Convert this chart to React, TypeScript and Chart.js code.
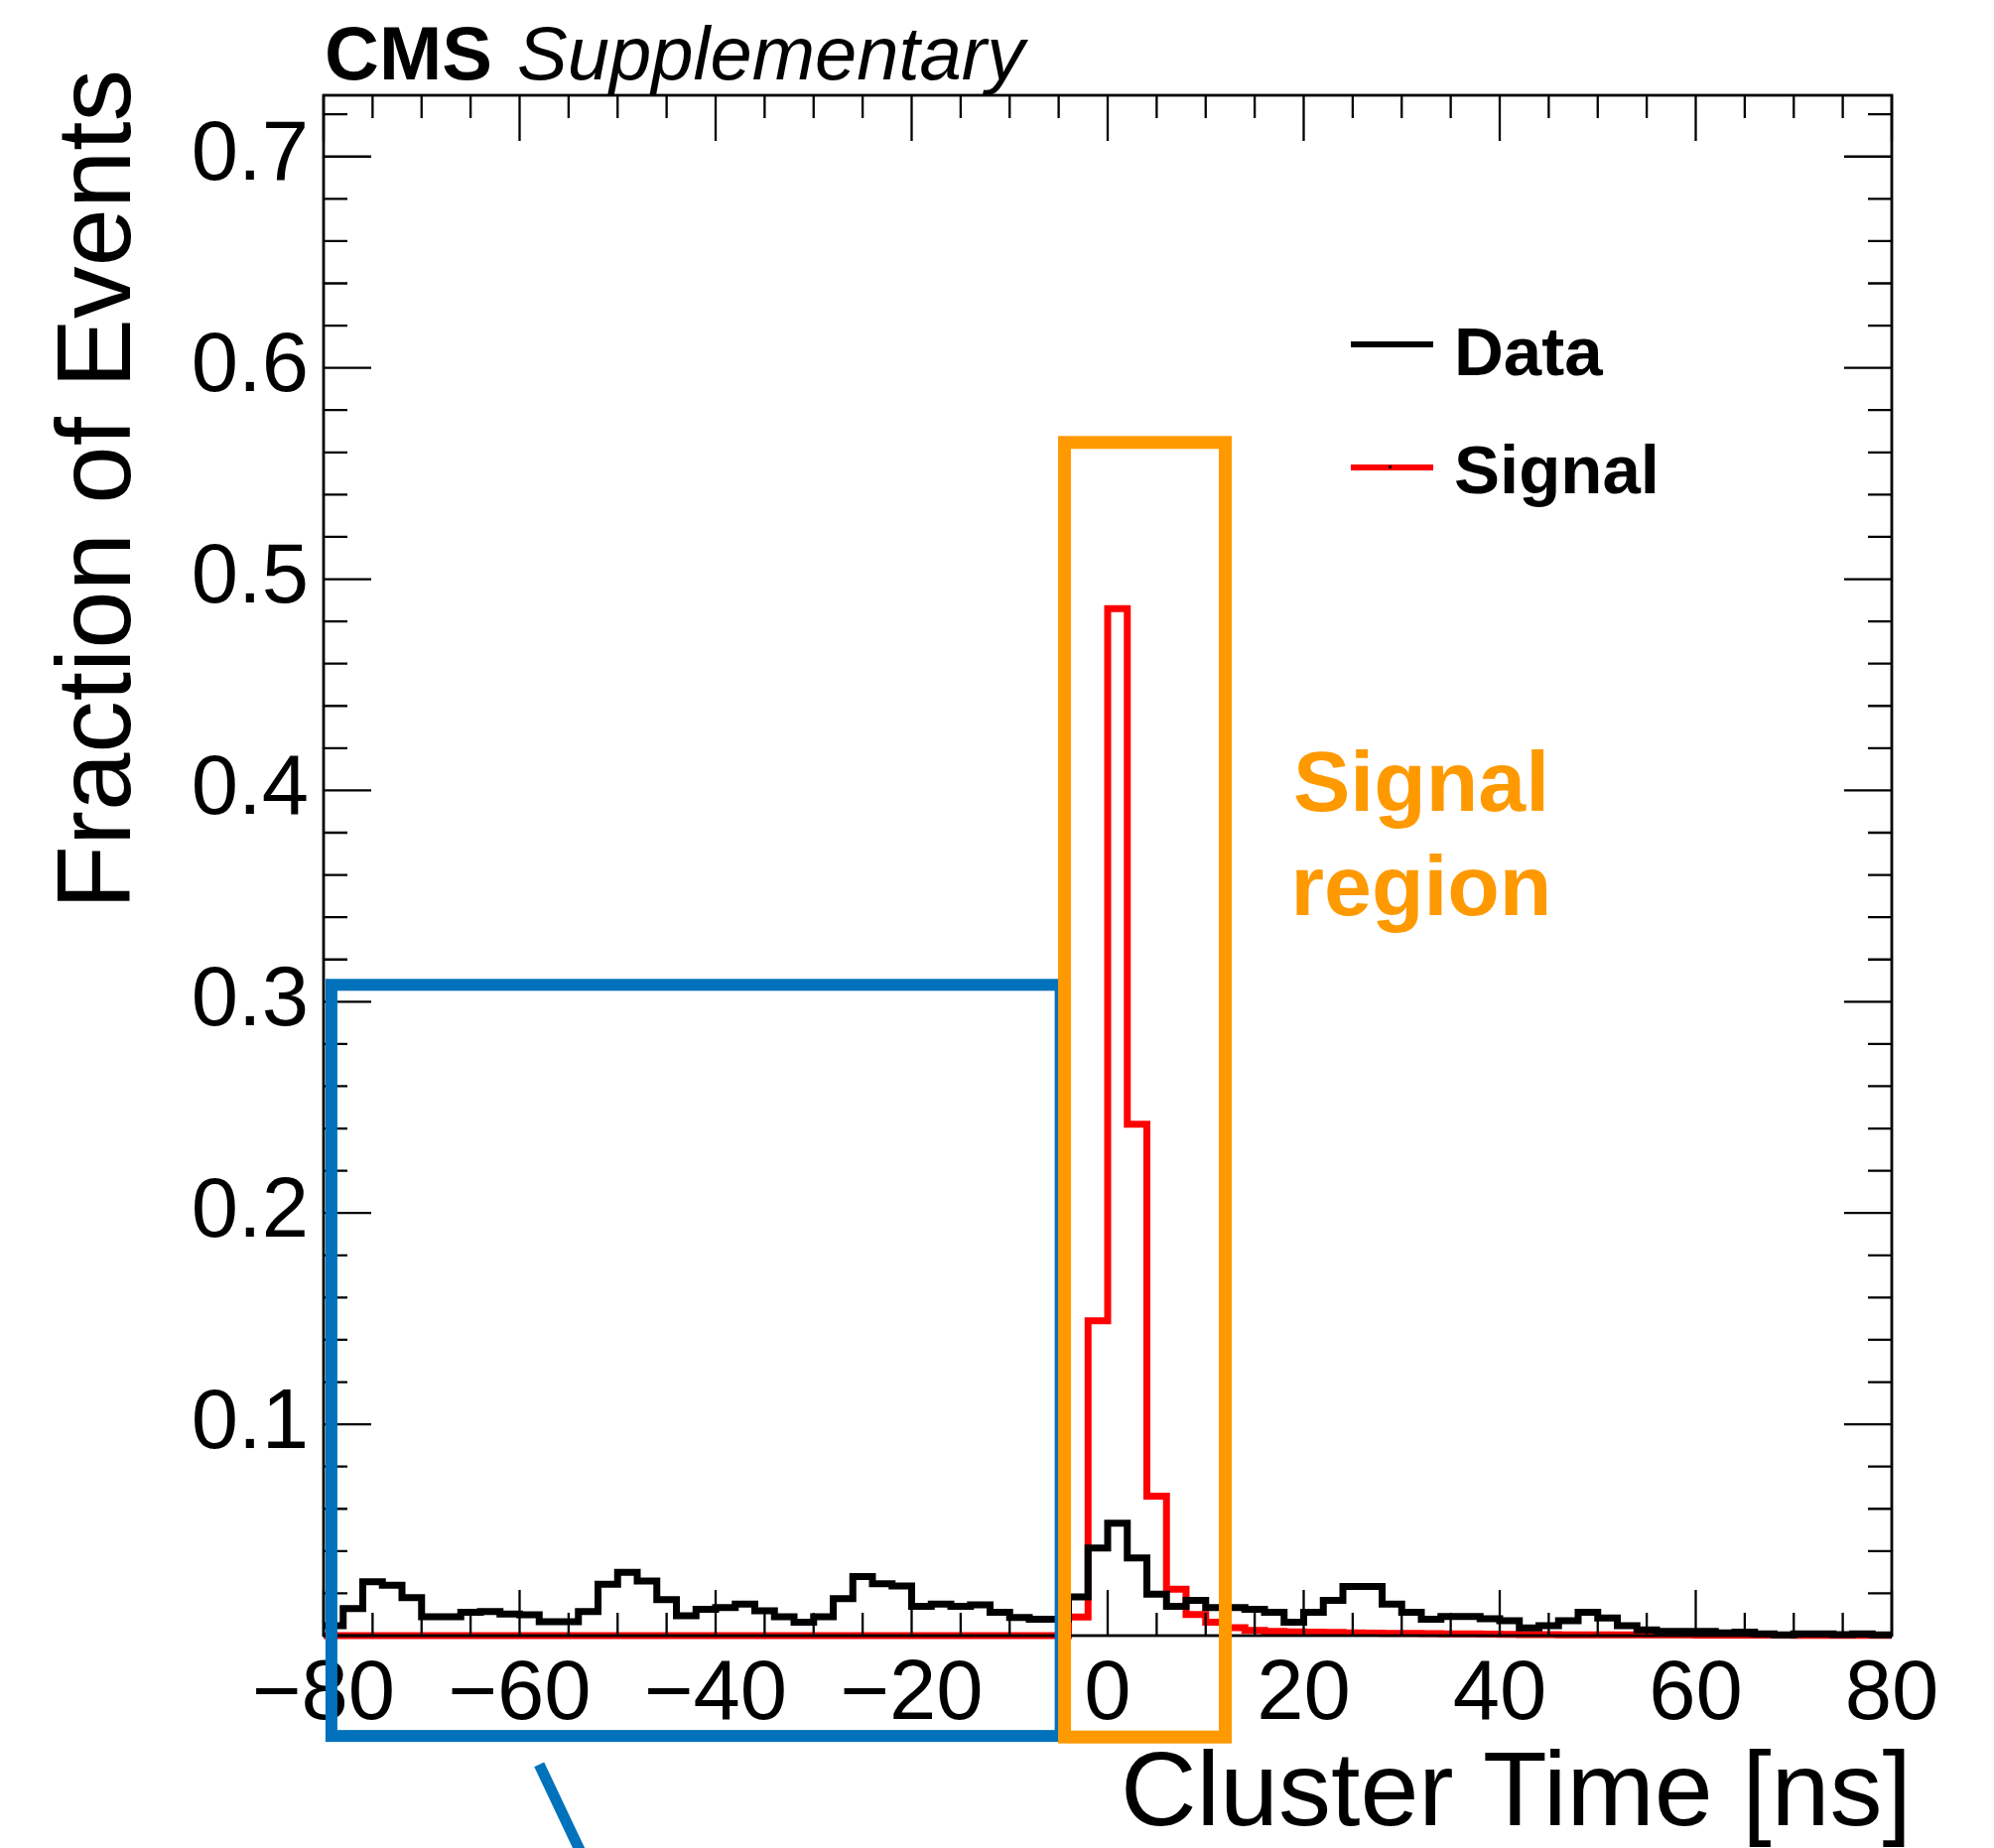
import React, { useEffect, useRef } from 'react';
import { Chart, registerables } from 'chart.js';

Chart.register(...registerables);

// ---- Data ----
const binLow = -80;
const binWidth = 2;
const binEdges: number[] = Array.from({ length: 81 }, (_, i) => binLow + binWidth * i);

const seriesNames = ['Data', 'Signal'];

const dataValues: number[] = [
  0.0047, 0.0128, 0.0255, 0.0238, 0.018, 0.0089, 0.0089, 0.011, 0.0114, 0.0102,
  0.0099, 0.0066, 0.0066, 0.0114, 0.0243, 0.030, 0.0258, 0.017, 0.0094, 0.0124,
  0.0133, 0.0149, 0.0117, 0.0089, 0.0063, 0.0089, 0.0175, 0.0279, 0.0246, 0.0235,
  0.0138, 0.0149, 0.0139, 0.0146, 0.011, 0.0086, 0.0078, 0.0078, 0.0183, 0.0415,
  0.0532, 0.0368, 0.0196, 0.0138, 0.0167, 0.0133, 0.0133, 0.0125, 0.011, 0.0063,
  0.011, 0.0167, 0.0232, 0.0232, 0.0149, 0.011, 0.0078, 0.0091, 0.0091, 0.008,
  0.007, 0.0036, 0.0047, 0.007, 0.011, 0.0083, 0.0047, 0.0027, 0.002, 0.002,
  0.002, 0.0013, 0.0016, 0.0008, 0.0004, 0.0008, 0.0008, 0.0005, 0.0008, 0.0004,
];

const signalValues: number[] = [
  0, 0, 0, 0, 0, 0, 0, 0, 0, 0,
  0, 0, 0, 0, 0, 0, 0, 0, 0, 0,
  0, 0, 0, 0, 0, 0, 0, 0, 0, 0,
  0, 0, 0, 0, 0, 0, 0, 0, 0.0088, 0.149,
  0.486, 0.242, 0.066, 0.022, 0.010, 0.0063, 0.0038, 0.0025, 0.002, 0.0018,
  0.0016, 0.0015, 0.0013, 0.0012, 0.0011, 0.001, 0.0009, 0.0008, 0.0008, 0.0007,
  0.0006, 0.0005, 0.0005, 0.0004, 0.0004, 0.0004, 0.0003, 0.0003, 0.0003, 0.0003,
  0.0002, 0.0002, 0.0002, 0.0002, 0.0002, 0.0001, 0.0001, 0.0001, 0.0001, 0.0001,
];

const xTickValues = [-80, -60, -40, -20, 0, 20, 40, 60, 80];
const xTickLabels = ['\u221280', '\u221260', '\u221240', '\u221220', '0', '20', '40', '60', '80'];
const yTickValues = [0.1, 0.2, 0.3, 0.4, 0.5, 0.6, 0.7];
const yTickLabels = ['0.1', '0.2', '0.3', '0.4', '0.5', '0.6', '0.7'];
const xMin = -80;
const xMax = 80;
const yMin = 0;
const yMax = 0.729;
const xMinorStep = 5;
const xMajorStep = 20;
const yMinorStep = 0.02;

// annotation regions, in data coordinates
const sidebandBox = { x0: -79.2, x1: -4.8, y0: -0.0475, y1: 0.308 };
const signalBox = { x0: -4.4, x1: 12.0, y0: -0.048, y1: 0.5647 };
const arrowLine = { x0: -58.0, y0: -0.061, x1: -53.0, y1: -0.11 };

const FONT = '"Liberation Sans", Arial, Helvetica, sans-serif';
const ORANGE = '#ff9900';
const BLUE = '#0072bb';

function toSteps(values: number[]) {
  const pts = values.map((v, i) => ({ x: binEdges[i], y: v }));
  pts.push({ x: binEdges[values.length], y: values[values.length - 1] });
  return pts;
}

const rootStyle = {
  id: 'rootStyle',
  afterDatasetsDraw(chart: any) {
    const { ctx, chartArea: a, scales } = chart;
    const x = scales.x;
    const y = scales.y;
    ctx.save();
    ctx.strokeStyle = '#000';
    ctx.lineWidth = 2.3;
    ctx.beginPath();
    for (let k = 0; ; k++) {
      const v = x.min + k * xMinorStep;
      if (v > x.max + 1e-9) break;
      const px = x.getPixelForValue(v);
      const major = Math.abs(v % xMajorStep) < 1e-9;
      const len = major ? 46 : 23;
      ctx.moveTo(px, a.bottom);
      ctx.lineTo(px, a.bottom - len);
      ctx.moveTo(px, a.top);
      ctx.lineTo(px, a.top + len);
    }
    for (let k = 0; ; k++) {
      const v = y.min + k * yMinorStep;
      if (v > y.max + 1e-9) break;
      const py = y.getPixelForValue(v);
      const len = k % 5 === 0 ? 48 : 24;
      ctx.moveTo(a.left, py);
      ctx.lineTo(a.left + len, py);
      ctx.moveTo(a.right, py);
      ctx.lineTo(a.right - len, py);
    }
    ctx.stroke();
    ctx.lineWidth = 2.8;
    ctx.strokeRect(a.left, a.top, a.right - a.left, a.bottom - a.top);
    ctx.restore();
  },
  afterDraw(chart: any) {
    const { ctx, scales } = chart;
    const x = scales.x;
    const y = scales.y;
    ctx.save();
    ctx.lineJoin = 'miter';
    // sideband box
    ctx.strokeStyle = BLUE;
    ctx.lineWidth = 12;
    {
      const l = x.getPixelForValue(sidebandBox.x0);
      const r = x.getPixelForValue(sidebandBox.x1);
      const t = y.getPixelForValue(sidebandBox.y1);
      const b = y.getPixelForValue(sidebandBox.y0);
      ctx.strokeRect(l, t, r - l, b - t);
    }
    // arrow line
    ctx.beginPath();
    ctx.lineWidth = 11;
    ctx.lineCap = 'butt';
    ctx.moveTo(x.getPixelForValue(arrowLine.x0), y.getPixelForValue(arrowLine.y0));
    ctx.lineTo(x.getPixelForValue(arrowLine.x1), y.getPixelForValue(arrowLine.y1));
    ctx.stroke();
    // signal box
    ctx.strokeStyle = ORANGE;
    ctx.lineWidth = 13;
    {
      const l = x.getPixelForValue(signalBox.x0);
      const r = x.getPixelForValue(signalBox.x1);
      const t = y.getPixelForValue(signalBox.y1);
      const b = y.getPixelForValue(signalBox.y0);
      ctx.strokeRect(l, t, r - l, b - t);
    }

    // Signal region label
    ctx.fillStyle = ORANGE;
    ctx.font = `bold 86px ${FONT}`;
    ctx.textAlign = 'center';
    ctx.textBaseline = 'alphabetic';
    ctx.fillText('Signal', 1432, 817);
    ctx.fillText('region', 1432, 922);

    // CMS label
    ctx.fillStyle = '#000';
    ctx.textAlign = 'left';
    ctx.font = `bold 76px ${FONT}`;
    ctx.fillText('CMS', 327, 80);
    ctx.font = `italic 76px ${FONT}`;
    ctx.fillText('Supplementary', 521, 80);

    // axis titles
    ctx.font = `106px ${FONT}`;
    ctx.textAlign = 'right';
    ctx.fillText('Cluster Time [ns]', 1926, 1839);
    ctx.save();
    ctx.translate(131, 70);
    ctx.rotate(-Math.PI / 2);
    ctx.textAlign = 'right';
    ctx.font = `105px ${FONT}`;
    ctx.fillText('Fraction of Events', 0, 0);
    ctx.restore();

    // legend
    const ds = chart.data.datasets;
    const legendRows = [
      { y: 347, ty: 378, i: 0 },
      { y: 471, ty: 497, i: 1 },
    ];
    ctx.textAlign = 'left';
    ctx.font = `bold 69px ${FONT}`;
    for (const row of legendRows) {
      ctx.strokeStyle = ds[row.i].borderColor;
      ctx.lineWidth = 6;
      ctx.beginPath();
      ctx.moveTo(1361, row.y);
      ctx.lineTo(1444, row.y);
      ctx.stroke();
      ctx.fillStyle = '#000';
      ctx.fillText(ds[row.i].label, 1465, row.ty);
    }
    ctx.fillStyle = '#000';
    ctx.fillRect(1399, 469, 3, 3);
    ctx.restore();
  },
};

export default function App() {
  const ref = useRef<HTMLCanvasElement | null>(null);

  useEffect(() => {
    document.body.style.margin = '0';
    document.body.style.overflow = 'hidden';
    const canvas = ref.current;
    if (!canvas) return;
    const chart = new Chart(canvas, {
      type: 'line',
      data: {
        datasets: [
          {
            label: seriesNames[0],
            data: toSteps(dataValues),
            borderColor: '#000000',
            borderWidth: 7,
            pointRadius: 0,
            stepped: 'before',
            fill: false,
            clip: false,
          } as any,
          {
            label: seriesNames[1],
            data: toSteps(signalValues),
            borderColor: '#ff0000',
            borderWidth: 7,
            pointRadius: 0,
            stepped: 'before',
            fill: false,
            clip: false,
          } as any,
        ],
      },
      options: {
        responsive: false,
        animation: false,
        devicePixelRatio: 1,
        layout: { padding: { left: 0, top: 96, right: 103, bottom: 0 } },
        plugins: {
          legend: { display: false },
          tooltip: { enabled: false },
        },
        scales: {
          x: {
            type: 'linear',
            min: xMin,
            max: xMax,
            grid: { display: false, drawTicks: false },
            border: { display: false },
            afterBuildTicks: (s: any) => {
              s.ticks = xTickValues.map((v) => ({ value: v }));
            },
            afterFit: (s: any) => {
              s.height = 214;
            },
            ticks: {
              autoSkip: false,
              maxRotation: 0,
              minRotation: 0,
              padding: 10,
              color: '#000',
              font: { family: FONT, size: 85 },
              callback: (_v: any, i: number) => xTickLabels[i],
            },
          },
          y: {
            type: 'linear',
            min: yMin,
            max: yMax,
            grid: { display: false, drawTicks: false },
            border: { display: false },
            afterBuildTicks: (s: any) => {
              s.ticks = yTickValues.map((v) => ({ value: v }));
            },
            afterFit: (s: any) => {
              s.width = 326;
            },
            ticks: {
              padding: 15,
              color: '#000',
              font: { family: FONT, size: 85 },
              callback: (_v: any, i: number) => yTickLabels[i],
            },
          },
        },
      } as any,
      plugins: [rootStyle],
    });
    return () => chart.destroy();
  }, []);

  return (
    <canvas
      ref={ref}
      width={2009}
      height={1862}
      style={{ display: 'block', width: 2009, height: 1862, background: '#fff' }}
    />
  );
}
